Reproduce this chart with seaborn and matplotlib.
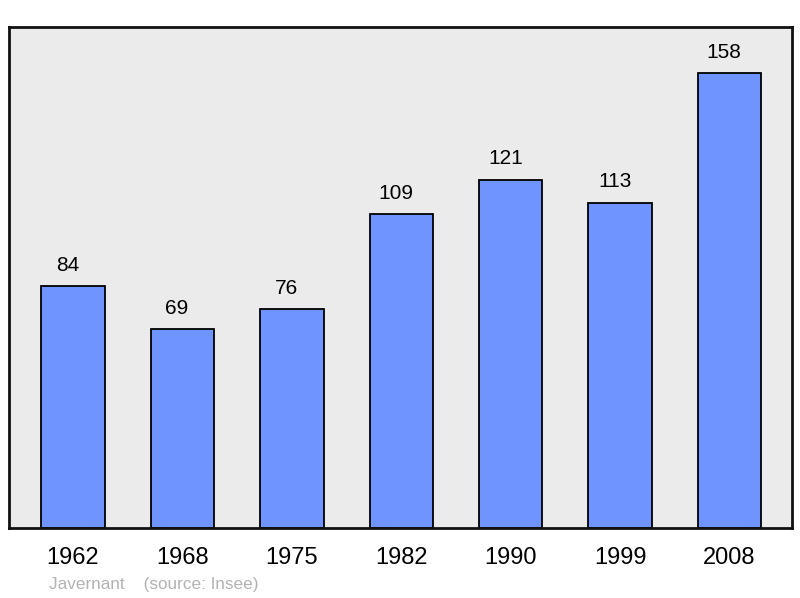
import seaborn as sns
import matplotlib.pyplot as plt
import pandas as pd

years = ["1962", "1968", "1975", "1982", "1990", "1999", "2008"]
population = [84, 69, 76, 109, 121, 113, 158]

sns.set_style("white")
plt.rcParams['font.family'] = ['Liberation Sans', 'DejaVu Sans']
plt.rcParams['text.color'] = 'black'
plt.rcParams['xtick.color'] = 'black'

data = pd.DataFrame({'year': years, 'pop': population})

fig = plt.figure(figsize=(8, 5.98), dpi=100)
ax = fig.add_axes([9 / 800, 1 - 528 / 598, 783 / 800, 501 / 598])
ax.set_facecolor('#ebebeb')

sns.barplot(data=data, x='year', y='pop', color='#7094ff', edgecolor='black',
            linewidth=1.3, width=0.58, saturation=1, ax=ax)

# value labels sit a bit left of bar centre, as in the original
for i, v in enumerate(population):
    ax.text(i - 0.05, v + 4, str(v), ha='center', va='bottom', fontsize=15)

ax.set_xlim(-0.585, 6.57)
ax.set_ylim(0, 174)
ax.set_yticks([])
ax.set_xlabel('')
ax.set_ylabel('')
ax.tick_params(axis='x', length=0, pad=13.5, labelsize=17, labelcolor='black')
for s in ax.spines.values():
    s.set_visible(True)
    s.set_linewidth(2)
    s.set_color('#111111')

fig.text(49 / 800, 1 - 584 / 598, "Javernant    (source: Insee)", color='#b3b3b3',
         fontsize=12.3, va='center', ha='left')

fig.savefig('out.png', dpi=100)
